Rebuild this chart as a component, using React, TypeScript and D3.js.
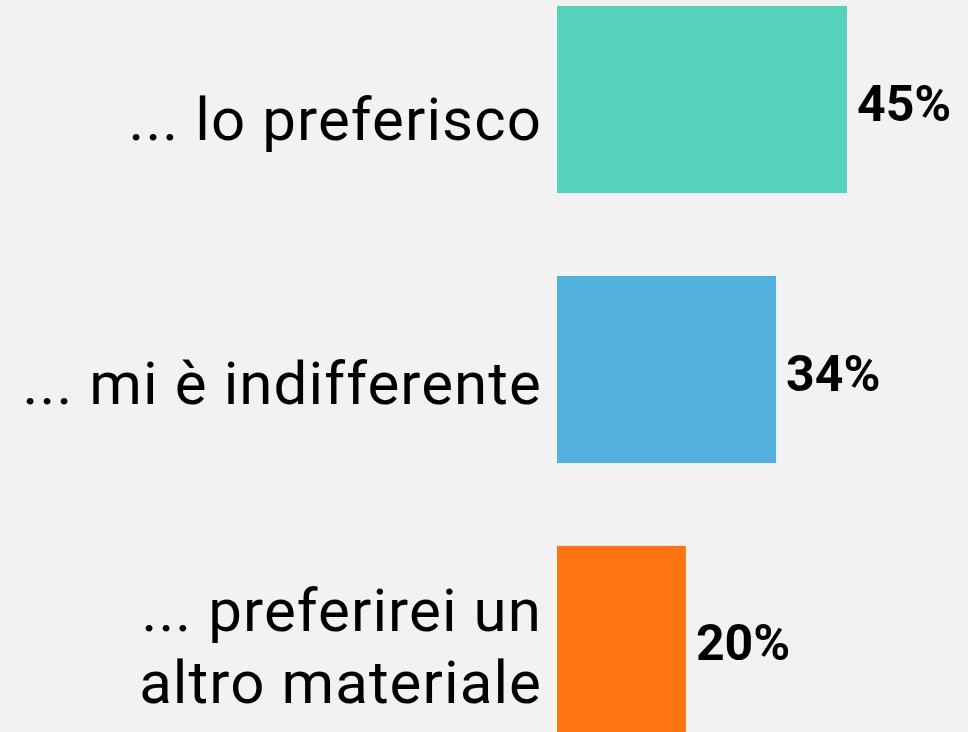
import React, { useEffect, useRef } from "react";
import * as d3 from "d3";

const categories = ["... lo preferisco", "... mi è indifferente", "... preferirei un altro materiale"];
const categoryLines = [["... lo preferisco"], ["... mi è indifferente"], ["... preferirei un", "altro materiale"]];
const values = [45, 34, 20];
const valueLabels = ["45%", "34%", "20%"];
const colors = ["#54d2bc", "#54b1dd", "#ff7412"];

const W = 968;
const H = 732;

export default function App() {
  const ref = useRef<SVGSVGElement>(null);

  useEffect(() => {
    document.body.style.margin = "0";
    const svg = d3.select(ref.current);
    svg.selectAll("*").remove();

    svg.append("rect").attr("width", W).attr("height", H).attr("fill", "#f2f2f2");

    const x = d3.scaleLinear().domain([0, 45]).range([557, 847]);
    const y = d3.scaleBand<string>().domain(categories).range([6, 733]).paddingInner(0.307).paddingOuter(0);
    const labelY = d3.scalePoint<string>().domain(categories).range([140, 667]);

    const g = svg.append("g");
    categories.forEach((c, i) => {
      const y0 = y(c)!;
      const bw = y.bandwidth();
      g.append("rect")
        .attr("x", x(0))
        .attr("y", y0)
        .attr("width", x(values[i]) - x(0))
        .attr("height", bw)
        .attr("fill", colors[i]);

      g.append("text")
        .attr("x", x(values[i]) + 10)
        .attr("y", y0 + bw / 2 + 21)
        .attr("font-family", "Roboto, sans-serif")
        .attr("font-weight", 700)
        .attr("font-size", 50)
        .attr("fill", "#000")
        .text(valueLabels[i]);

      const lines = categoryLines[i];
      const lh = 72.5;
      const base = labelY(c)! - ((lines.length - 1) * lh) / 2;
      const t = g.append("text")
        .attr("text-anchor", "end")
        .attr("font-family", "Roboto, sans-serif")
        .attr("font-weight", 400)
        .attr("font-size", 60)
        .attr("letter-spacing", 1.1)
        .attr("fill", "#000");
      lines.forEach((ln, j) => {
        t.append("tspan").attr("x", x(0) - 15).attr("y", base + j * lh).text(ln);
      });
    });
  }, []);

  return <svg ref={ref} width={W} height={H} style={{ position: "absolute", left: 0, top: 0, display: "block" }} />;
}
